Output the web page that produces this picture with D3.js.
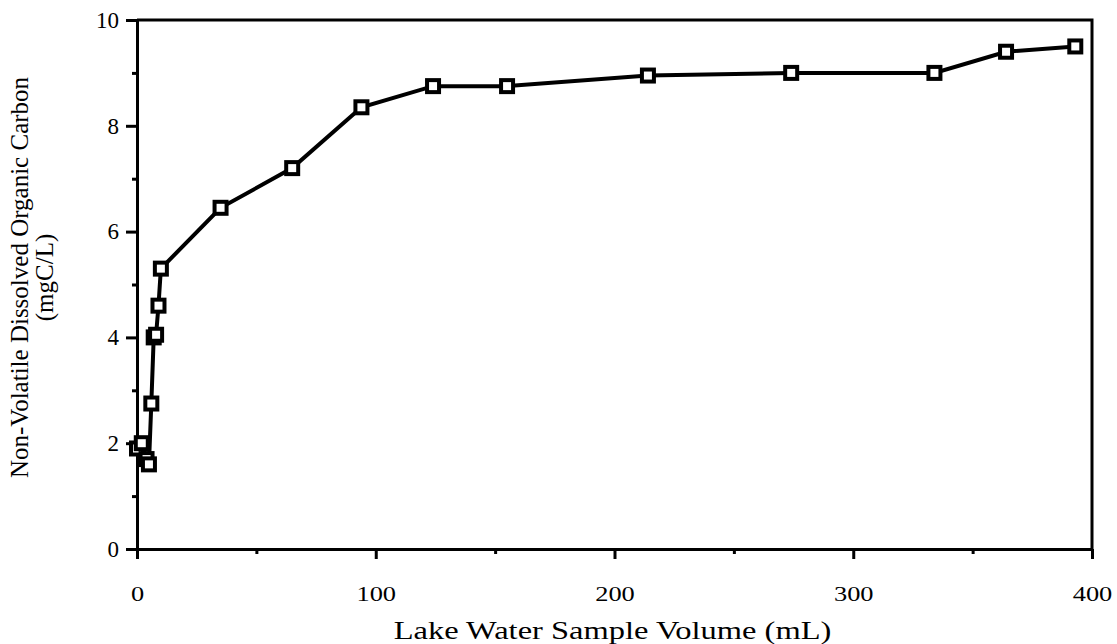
<!DOCTYPE html>
<html>
<head>
<meta charset="utf-8">
<script src="https://cdn.jsdelivr.net/npm/d3@7"></script>
<style>
  body { margin: 0; background: #fff; }
  text { font-family: "Liberation Serif", "DejaVu Serif", serif; fill: #000; }
</style>
</head>
<body>
<div id="chart"></div>
<script>

// sample volume (mL) and carbon (mgC/L)
var volume = [0, 2, 4, 5, 6, 7, 8, 9, 10, 35, 65, 94, 124, 155, 214, 274, 334, 364, 393];
var carbon = [1.9, 2.0, 1.7, 1.6, 2.75, 4.0, 4.05, 4.6, 5.3, 6.45, 7.2, 8.35, 8.75, 8.75, 8.95, 9.0, 9.0, 9.4, 9.5];

var xTicks = [0, 100, 200, 300, 400];
var xMinor = [50, 150, 250, 350];
var yTicks = [0, 2, 4, 6, 8, 10];
var yMinor = [1, 3, 5, 7, 9];

var data = volume.map(function (v, i) { return {x: v, y: carbon[i]}; });

const margin = {top: 20, right: 25, bottom: 95, left: 137},
    width = 1117 - margin.left - margin.right,
    height = 644 - margin.top - margin.bottom;

const svg = d3.select("#chart")
    .append("svg")
    .attr("width", 1117)
    .attr("height", 644)
    .append("g")
    .attr("transform", "translate(" + margin.left + "," + margin.top + ")");

var xScale = d3.scaleLinear().domain([0, 400]).range([0, width]);
var yScale = d3.scaleLinear().domain([0, 10]).range([height, 0]);

// frame (top + right)
svg.append("path")
    .attr("d", "M0,0H" + width + "V" + height)
    .style("fill", "none")
    .style("stroke", "#000")
    .style("stroke-width", "3px");

// x axis
var xAxis = svg.append("g")
    .attr("class", "x-axis")
    .attr("transform", "translate(0," + height + ")")
    .call(d3.axisBottom(xScale).tickValues(xTicks).tickSize(10).tickPadding(26).tickSizeOuter(0));

svg.append("g")
    .attr("transform", "translate(0," + height + ")")
    .call(d3.axisBottom(xScale).tickValues(xMinor).tickSize(5).tickFormat("").tickSizeOuter(0))
    .select(".domain").remove();

// y axis
var yAxis = svg.append("g")
    .attr("class", "y-axis")
    .call(d3.axisLeft(yScale).tickValues(yTicks).tickSize(11).tickPadding(7).tickSizeOuter(0));

svg.append("g")
    .call(d3.axisLeft(yScale).tickValues(yMinor).tickSize(5).tickFormat("").tickSizeOuter(0))
    .select(".domain").remove();

svg.selectAll(".domain, .tick line")
    .style("stroke", "#000")
    .style("stroke-width", "3px");

xAxis.selectAll(".tick text")
    .style("font-size", "22px")
    .attr("transform", "scale(1.2,1)");

yAxis.selectAll(".tick text")
    .style("font-size", "23px");

// axis titles
svg.append("text")
    .attr("transform", "translate(" + (width / 2 - 2) + "," + (height + 90) + ") scale(1.3,1)")
    .attr("text-anchor", "middle")
    .style("font-size", "25px")
    .text("Lake Water Sample Volume (mL)");

var yTitle = svg.append("text")
    .attr("transform", "translate(" + (-margin.left + 28) + "," + (height / 2 - 7) + ") rotate(-90)")
    .attr("text-anchor", "middle")
    .style("font-size", "25px");

yTitle.append("tspan")
    .attr("x", 0)
    .attr("dy", 0)
    .text("Non-Volatile Dissolved Organic Carbon");

yTitle.append("tspan")
    .attr("x", 0)
    .attr("dy", 25)
    .text("(mgC/L)");

// line
var line = d3.line()
    .x(function (d) { return xScale(d.x); })
    .y(function (d) { return yScale(d.y); });

svg.append("path")
    .datum(data)
    .attr("d", line)
    .style("fill", "none")
    .style("stroke", "#000")
    .style("stroke-width", "4px");

// markers
svg.selectAll("rect.point")
    .data(data)
    .enter()
    .append("rect")
    .attr("class", "point")
    .attr("x", function (d) { return xScale(d.x) - 6; })
    .attr("y", function (d) { return yScale(d.y) - 6; })
    .attr("width", 12)
    .attr("height", 12)
    .style("fill", "#fff")
    .style("stroke", "#000")
    .style("stroke-width", "4px");

</script>
</body>
</html>
